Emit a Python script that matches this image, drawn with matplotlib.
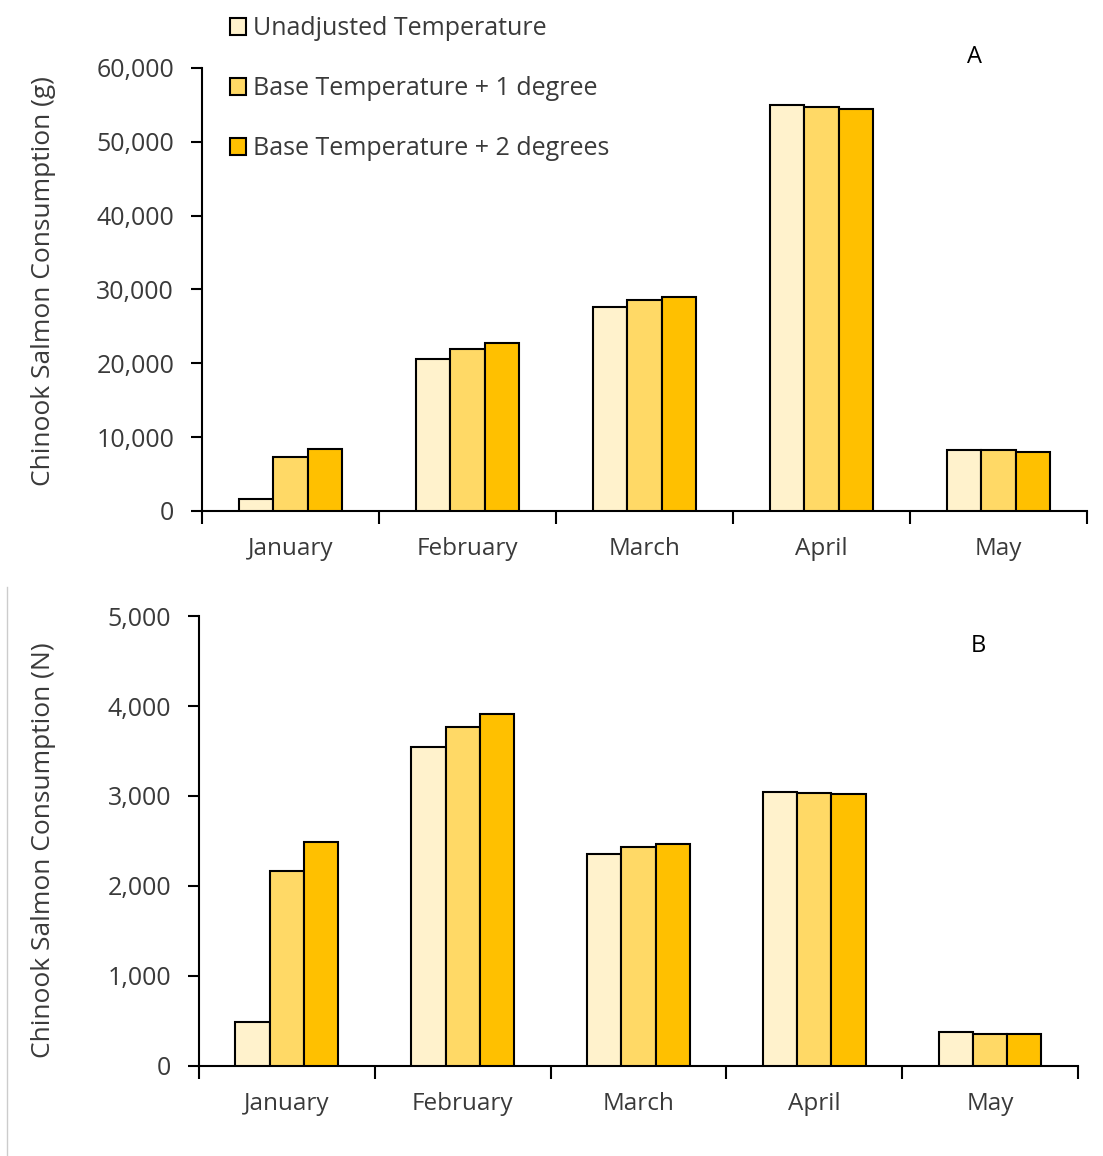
import numpy as np
import matplotlib
matplotlib.use('Agg')
import matplotlib.pyplot as plt
from matplotlib.ticker import FuncFormatter, FixedLocator
from matplotlib.lines import Line2D

plt.rcParams['font.family'] = ['Open Sans', 'DejaVu Sans']

months = ['January', 'February', 'March', 'April', 'May']
series = ['Unadjusted Temperature', 'Base Temperature + 1 degree', 'Base Temperature + 2 degrees']
colors = ['#FFF2CC', '#FFD966', '#FFC000']

# consumption in grams (panel A)
grams_unadj = [1600, 20600, 27600, 55000, 8250]
grams_plus1 = [7300, 21900, 28600, 54700, 8250]
grams_plus2 = [8400, 22750, 29000, 54450, 8000]

# consumption in numbers (panel B)
num_unadj = [490, 3550, 2355, 3045, 378]
num_plus1 = [2165, 3765, 2435, 3035, 358]
num_plus2 = [2490, 3910, 2465, 3022, 356]

txt = '#3a3a3a'
fig = plt.figure(figsize=(11.03, 11.56), dpi=100)
axA = fig.add_axes([0.1831, 0.5580, 0.8024, 0.3832])
axB = fig.add_axes([0.1804, 0.0779, 0.7969, 0.3892])

x = np.arange(len(months))
w = 0.195


def panel(ax, data, ymax, step, ylabel, letter, lpos):
    for i, (vals, c) in enumerate(zip(data, colors)):
        ax.bar(x + (i - 1) * w, vals, w, color=c, edgecolor='black', linewidth=1.5,
               label=series[i], zorder=3)
    ax.set_xlim(-0.5, len(months) - 0.5)
    ax.set_ylim(0, ymax)
    ax.set_yticks(np.arange(0, ymax + 1, step))
    ax.yaxis.set_major_formatter(FuncFormatter(lambda v, p: f'{int(v):,}'))
    ax.set_xticks(x)
    ax.set_xticklabels(months)
    ax.xaxis.set_minor_locator(FixedLocator(np.arange(-0.5, len(months), 1.0)))
    ax.tick_params(axis='x', which='major', length=0, pad=19, labelsize=17.5, labelcolor=txt)
    ax.tick_params(axis='x', which='minor', length=9, width=1.5, direction='out')
    ax.tick_params(axis='y', length=8, width=1.5, pad=12, labelsize=18, labelcolor=txt)
    for s in ['top', 'right']:
        ax.spines[s].set_visible(False)
    for s in ['left', 'bottom']:
        ax.spines[s].set_linewidth(1.5)
    ax.set_ylabel(ylabel, fontsize=19, color=txt)
    ax.text(lpos[0], lpos[1], letter, transform=ax.transAxes, fontsize=17, color='black',
            ha='center', va='center')


panel(axA, [grams_unadj, grams_plus1, grams_plus2], 60000, 10000,
      'Chinook Salmon Consumption (g)', 'A', (0.873, 1.025))
panel(axB, [num_unadj, num_plus1, num_plus2], 5000, 1000,
      'Chinook Salmon Consumption (N)', 'B', (0.887, 0.933))

axA.yaxis.set_label_coords(-0.165, 0.519)
axB.yaxis.set_label_coords(-0.1625, 0.48)

leg = axA.legend(loc='upper left', bbox_to_anchor=(0.02, 1.14), frameon=False, fontsize=18,
                 labelspacing=1.4, handlelength=0.65, handleheight=0.65, handletextpad=0.3,
                 borderaxespad=0)
for t in leg.get_texts():
    t.set_color(txt)

fig.add_artist(Line2D([0.0065, 0.0065], [0.0, 0.492], color='#cccccc', linewidth=1))

fig.savefig('out.png', dpi=100)
